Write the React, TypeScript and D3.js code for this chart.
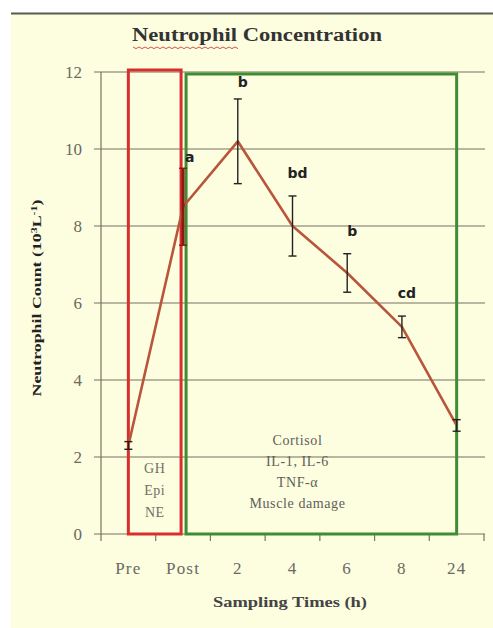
import React from "react";
import * as d3 from "d3";

const categories = ["Pre", "Post", "2", "4", "6", "8", "24"];
const means = [2.3, 8.5, 10.2, 8.0, 6.78, 5.38, 2.82];
const errors = [0.1, 1.0, 1.1, 0.78, 0.5, 0.28, 0.15];
const sigLetters = ["", "a", "b", "bd", "b", "cd", ""];
const yTicks = [0, 2, 4, 6, 8, 10, 12];
const redBoxText = ["GH", "Epi", "NE"];
const greenBoxText = ["Cortisol", "IL-1, IL-6", "TNF-\u03b1", "Muscle damage"];

const W = 493;
const H = 628;
const serif = "'Liberation Serif', 'DejaVu Serif', serif";
const sans = "'DejaVu Sans', Verdana, sans-serif";

export default function App() {
  const x = d3.scaleBand<string>().domain(categories).range([101, 484]).padding(0);
  const y = d3.scaleLinear().domain([0, 12]).range([534, 72]);
  const cx = (c: string) => (x(c) ?? 0) + x.bandwidth() / 2;

  const line = d3
    .line<number>()
    .x((_, i) => cx(categories[i]))
    .y((d) => y(d));

  const bandEdges = categories.map((c) => x(c) ?? 0).concat([x.range()[1]]);

  const redX0 = cx("Pre");
  const redX1 = cx("Post") - 2;
  const greenX0 = cx("Post") + 3;
  const greenX1 = cx("24");

  const squiggle = d3.range(0, 36).map((i) => [133 + i * 3, 47 + (i % 2 === 0 ? 0 : 1.6)] as [number, number]);

  return (
    <svg
      width={W}
      height={H}
      style={{ position: "absolute", left: 0, top: 0, display: "block" }}
    >
      <rect x={0} y={0} width={W} height={H} fill="#ffffff" />
      <rect x={11} y={14} width={W - 11} height={H - 14} fill="#fdfde0" />
      <line x1={11} x2={W} y1={13.5} y2={13.5} stroke="#5a5a50" strokeWidth={2} />

      <text
        x={257}
        y={41}
        textAnchor="middle"
        fontFamily={serif}
        fontWeight="bold"
        fontSize={18}
        fill="#333"
        textLength={250}
        lengthAdjust="spacingAndGlyphs"
      >
        Neutrophil Concentration
      </text>
      <path d={d3.line()(squiggle) ?? ""} fill="none" stroke="#d04040" strokeWidth={0.9} />

      {yTicks.map((t) => (
        <line key={t} x1={94} x2={485} y1={y(t)} y2={y(t)} stroke="#777262" strokeWidth={1.2} />
      ))}
      <line x1={101} x2={101} y1={y(12)} y2={y(0)} stroke="#777262" strokeWidth={1.2} />
      {bandEdges.map((e, i) => (
        <line key={i} x1={e} x2={e} y1={y(0)} y2={y(0) + 7} stroke="#777262" strokeWidth={1.2} />
      ))}

      {yTicks.map((t) => (
        <text
          key={t}
          x={82}
          y={y(t) + 6}
          textAnchor="end"
          fontFamily={serif}
          fontSize={17}
          fill="#6a6a62"
        >
          {t}
        </text>
      ))}

      {categories.map((c) => (
        <text
          key={c}
          x={cx(c)}
          y={574}
          textAnchor="middle"
          fontFamily={serif}
          fontSize={17}
          letterSpacing={1.2}
          fill="#6a6a62"
        >
          {c}
        </text>
      ))}

      <text
        x={290}
        y={607}
        textAnchor="middle"
        fontFamily={serif}
        fontWeight="bold"
        fontSize={14}
        fill="#444"
        textLength={154}
        lengthAdjust="spacingAndGlyphs"
      >
        Sampling Times (h)
      </text>
      <text
        transform="translate(41,298) rotate(-90)"
        textAnchor="middle"
        fontFamily={serif}
        fontWeight="bold"
        fontSize={12}
        fill="#222"
        textLength={197}
        lengthAdjust="spacingAndGlyphs"
      >
        Neutrophil Count (10
        <tspan fontSize={8} dy={-4}>3</tspan>
        <tspan dy={4}>L</tspan>
        <tspan fontSize={8} dy={-4}>-1</tspan>
        <tspan dy={4}>)</tspan>
      </text>

      <rect
        x={redX0}
        y={y(12) - 2}
        width={redX1 - redX0}
        height={y(0) - y(12) + 2}
        fill="none"
        stroke="#d92f2c"
        strokeWidth={3}
      />
      <rect
        x={greenX0}
        y={y(12) + 2}
        width={greenX1 - greenX0}
        height={y(0) - y(12) - 2}
        fill="none"
        stroke="#3f8d33"
        strokeWidth={3}
      />

      {redBoxText.map((t, i) => (
        <text
          key={t}
          x={(redX0 + redX1) / 2}
          y={473 + i * 22}
          textAnchor="middle"
          fontFamily={serif}
          fontSize={14}
          letterSpacing={0.5}
          fill="#707068"
        >
          {t}
        </text>
      ))}
      {greenBoxText.map((t, i) => (
        <text
          key={t}
          x={cx("4") + 5}
          y={445 + i * 21}
          textAnchor="middle"
          fontFamily={serif}
          fontSize={14}
          letterSpacing={0.6}
          fill="#606058"
        >
          {t}
        </text>
      ))}

      <path d={line(means) ?? ""} fill="none" stroke="#b9553a" strokeWidth={2.6} strokeLinejoin="round" />

      {means.map((m, i) => {
        const xc = cx(categories[i]);
        const top = y(m + errors[i]);
        const bot = y(m - errors[i]);
        return (
          <g key={i} stroke={i === 1 ? "#8a1a14" : "#222"} strokeWidth={i === 1 ? 3 : 1.4}>
            <line x1={xc} x2={xc} y1={top} y2={bot} />
            <line x1={xc - 4} x2={xc + 4} y1={top} y2={top} strokeWidth={1.4} />
            <line x1={xc - 4} x2={xc + 4} y1={bot} y2={bot} strokeWidth={1.4} />
          </g>
        );
      })}

      {sigLetters.map((s, i) => {
        if (!s) return null;
        const xc = cx(categories[i]);
        const top = y(means[i] + errors[i]);
        const isA = s === "a";
        const isFirstB = i === 2;
        return (
          <text
            key={i}
            x={isA ? xc + 2 : xc + 5}
            y={isA ? top - 6 : isFirstB ? top - 12 : top - 18}
            textAnchor={isA ? "start" : "middle"}
            fontFamily={sans}
            fontWeight="bold"
            fontSize={14}
            fill="#222"
          >
            {s}
          </text>
        );
      })}
    </svg>
  );
}
